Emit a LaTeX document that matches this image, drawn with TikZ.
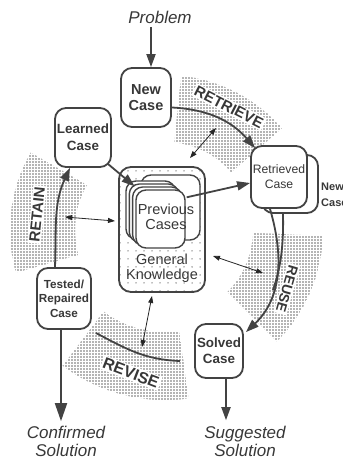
\documentclass[tikz,border=0pt]{standalone}
\usepackage{fontspec}
\setmainfont{Liberation Sans}
\usetikzlibrary{arrows.meta,patterns.meta,calc}

\definecolor{ink}{HTML}{434343}
\definecolor{txt}{HTML}{383838}
\definecolor{dotc}{HTML}{6a6a6a}
\definecolor{kdot}{HTML}{808080}

\tikzset{
  casebox/.style={draw=ink, line width=1.8pt, rounded corners=11pt, fill=white,
    inner sep=0pt, align=center, text=txt},
  card/.style={draw=ink, line width=1.4pt, rounded corners=10pt, fill=white, inner sep=0pt},
  flow/.style={draw=ink, line width=1.8pt, -{Triangle[length=13pt,width=9pt]}},
  bigflow/.style={draw=ink, line width=1.8pt, -{Triangle[length=18pt,width=12pt]}},
  link/.style={draw=black!85, line width=0.8pt,
    {Triangle[length=7pt,width=5pt]}-{Triangle[length=7pt,width=5pt]}},
  band/.style={pattern={Dots[distance=3pt,radius=0.85pt]}, pattern color=dotc},
  phase/.style={fill=white, inner sep=1.5pt, text=txt},
  io/.style={text=txt, font=\itshape\fontsize{17}{18}\selectfont, align=center},
}

\begin{document}
\begin{tikzpicture}[x=1pt,y=1pt]
\useasboundingbox (0,0) rectangle (343,459);
\coordinate (C) at (165,229);

% stippled bands of the four phases
\path[band] ($(C)+(41:88)$) arc[start angle=41,end angle=84,radius=88]
  -- ($(C)+(84:155)$) arc[start angle=84,end angle=41,radius=155] -- cycle;
\path[band] ($(C)+(150:90)$) arc[start angle=150,end angle=196,radius=90]
  -- ($(C)+(196:155)$) arc[start angle=196,end angle=150,radius=155] -- cycle;
\path[band] ($(C)+(-45:88)$) arc[start angle=-45,end angle=-2,radius=88]
  -- ($(C)+(-2:158)$) arc[start angle=-2,end angle=-45,radius=158] -- cycle;
\path[band] ($(C)+(233:102)$) arc[start angle=233,end angle=278,radius=102]
  -- ($(C)+(278:170)$) arc[start angle=278,end angle=233,radius=170] -- cycle;

% phase names
\node[phase, rotate=-27, font=\bfseries\fontsize{15}{15}\selectfont] (retrieve) at (229,352) {RETRIEVE};
\node[phase, rotate=84, font=\bfseries\fontsize{15}{15}\selectfont] (retain) at (37,244.5) {RETAIN};
\node[phase, rotate=-106, font=\bfseries\fontsize{14}{14}\selectfont] (reuse) at (287,170) {REUSE};
\node[phase, rotate=-21, font=\bfseries\fontsize{16}{16}\selectfont] (revise) at (131,86) {REVISE};

% general knowledge with the case base
\node[draw=ink, line width=1.8pt, rounded corners=12pt, minimum width=86pt, minimum height=125pt,
  pattern={Dots[distance=8pt,radius=0.75pt]}, pattern color=kdot] (gk) at (162,229.5) {};
\node[text=txt, font=\fontsize{14.5}{15}\selectfont, align=center] (gktext) at (162,191) {General\\Knowledge};
\node[card, minimum width=59pt, minimum height=65pt] (prevback) at (170.5,251.5) {};
\foreach \k in {0,1,2,3}
  \node[card, minimum width=49pt, minimum height=58pt] (prev\k) at (150.5+3.33*\k, 249-3*\k) {};
\node[text=txt, font=\fontsize{14.5}{15}\selectfont, align=center] (prevtext) at (166,242) {Previous\\Cases};

% cases around the cycle
\node[casebox, minimum width=50pt, minimum height=59pt, font=\bfseries\fontsize{14.5}{16}\selectfont]
  (newcase) at (146,361.5) {New\\Case};
\node[casebox, minimum width=56pt, minimum height=59pt, font=\bfseries\fontsize{13.4}{17}\selectfont]
  (learned) at (83,321.5) {Learned\\Case};
\node[casebox, minimum width=56pt, minimum height=58pt] (newback) at (290,275) {};
\node[casebox, minimum width=56pt, minimum height=62pt, font=\fontsize{12.2}{15}\selectfont]
  (retrieved) at (279,282) {Retrieved\\Case};
\node[anchor=west, inner sep=0pt, text=txt, align=left, font=\bfseries\fontsize{11}{16}\selectfont]
  (newlabel) at (321,264) {New\\Case};
\node[casebox, minimum width=54pt, minimum height=61pt, font=\bfseries\fontsize{11.7}{14.5}\selectfont]
  (tested) at (64,160.5) {Tested/\\Repaired\\Case};
\node[casebox, minimum width=48pt, minimum height=54pt, font=\bfseries\fontsize{13.4}{16}\selectfont]
  (solved) at (219,108) {Solved\\Case};

% inputs and outputs
\node[io] (problem) at (160,442) {Problem};
\node[io] (confirmed) at (66,18) {Confirmed\\Solution};
\node[io] (suggested) at (245,18) {Suggested\\Solution};

\coordinate (pin) at ($(newcase.north)+(5,0)$);
\draw[flow] (pin |- problem.south) -- (pin);
\coordinate (tout) at ($(tested.south)+(-3,0)$);
\draw[bigflow] (tout) -- ($(tout |- confirmed.north)+(0,1)$);
\coordinate (sout) at ($(solved.south)+(7,0)$);
\draw[flow] (sout) -- ($(sout |- suggested.north)+(0,2)$);

% the cycle
\draw[flow] ($(newcase.east)+(0,-10)$) to[out=-3,in=131] ($(retrieved.north west)+(5,-3)$);
\coordinate (reuseA) at ($(retrieved.south)+(-9,0)$);
\coordinate (reuseB) at ($(newback.south)+(-7,0)$);
\coordinate (reuseM) at (273,169);
\draw[flow] (reuseA) .. controls (285,199) and (280,159) .. ($(solved.north east)+(2,-9)$);
\draw[draw=ink, line width=1.8pt] (reuseB) .. controls (284,204) and (278,184) .. (reuseM);
\coordinate (rv1) at (96,126);
\coordinate (rv2) at (180,98);
\draw[draw=ink, line width=1.8pt] (rv1) to[out=-28,in=178] (rv2);
\draw[flow] ($(tested.north)+(-9,0)$) to[out=88,in=-115] ($(learned.south)+(-13,0)$);

% case base in and out
\draw[flow] ($(learned.south east)+(-4,4)$) -- ($(prev1.north west)+(6,-3)$);
\draw[flow] ($(prev3.north east)+(1,-8)$) -- ($(retrieved.west)+(0,-6)$);

% links to general knowledge
\coordinate (k1a) at (216,331); \coordinate (k1b) at (190,301);
\coordinate (k2a) at (65,242);  \coordinate (k2b) at (115,238);
\coordinate (k3a) at (213,203); \coordinate (k3b) at (263,186);
\coordinate (k4a) at (152,163); \coordinate (k4b) at (142,112);
\draw[link] (k1a) -- (k1b);
\draw[link] (k2a) -- (k2b);
\draw[link] (k3a) -- (k3b);
\draw[link] (k4a) -- (k4b);
\end{tikzpicture}
\end{document}
